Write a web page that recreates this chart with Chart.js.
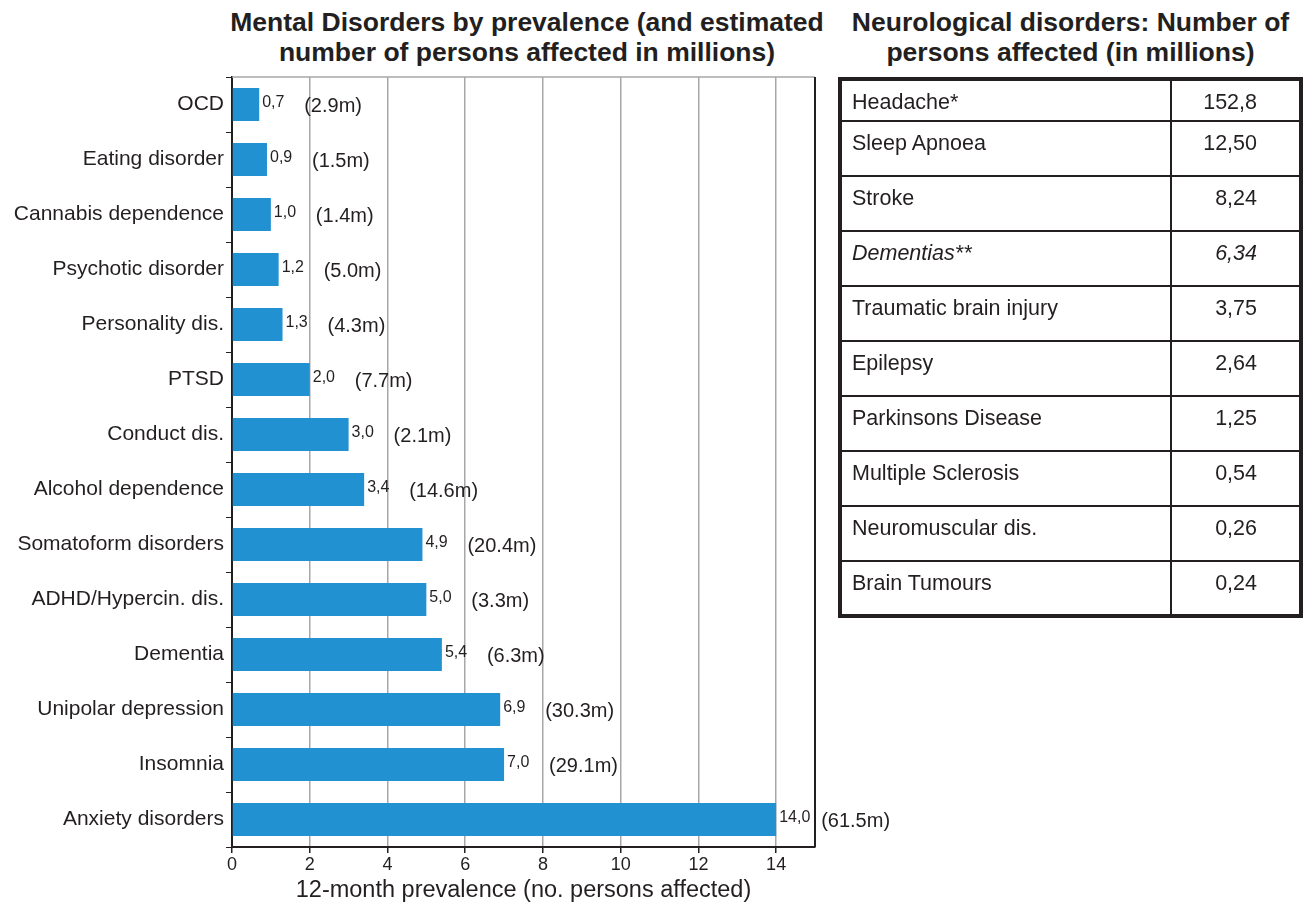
<!DOCTYPE html>
<html>
<head>
<meta charset="utf-8">
<script src="https://cdn.jsdelivr.net/npm/chart.js@4.4.0/dist/chart.umd.min.js"></script>
<style>
  body { margin: 0; background: #fff; font-family: "Liberation Sans", Arial, sans-serif; color: #231f20; }
  .title { position: absolute; font-weight: bold; font-size: 26.5px; line-height: 30px; text-align: center; white-space: nowrap; }
  #chartBox { position: absolute; left: 0; top: 0; width: 900px; height: 909px; }
  #neuro { position: absolute; left: 838px; top: 77px; width: 465px; border-collapse: collapse; border: 4px solid #231f20; font-size: 21.5px; }
  #neuro td { border: 2px solid #231f20; vertical-align: top; padding: 9px 0 0 10px; height: 42px; box-sizing: border-box; }
  #neuro td.v { text-align: right; padding: 9px 42px 0 0; }
</style>
</head>
<body>
<div class="title" style="left:227px; top:7px; width:600px;">Mental Disorders by prevalence (and estimated<br>number of persons affected in millions)</div>
<div class="title" style="left:838px; top:7px; width:465px;">Neurological disorders: Number of<br>persons affected (in millions)</div>
<div id="chartBox"><canvas id="c"></canvas></div>
<table id="neuro"></table>
<script>
// mental disorders, 12-month prevalence (%) and persons affected (millions)
const categories = ["OCD", "Eating disorder", "Cannabis dependence", "Psychotic disorder", "Personality dis.",
  "PTSD", "Conduct dis.", "Alcohol dependence", "Somatoform disorders", "ADHD/Hypercin. dis.",
  "Dementia", "Unipolar depression", "Insomnia", "Anxiety disorders"];
const prevalence = [0.7, 0.9, 1.0, 1.2, 1.3, 2.0, 3.0, 3.4, 4.9, 5.0, 5.4, 6.9, 7.0, 14.0];
const millions = [2.9, 1.5, 1.4, 5.0, 4.3, 7.7, 2.1, 14.6, 20.4, 3.3, 6.3, 30.3, 29.1, 61.5];
const xTicks = [0, 2, 4, 6, 8, 10, 12, 14];

// neurological disorders table
const neuroNames = ["Headache*", "Sleep Apnoea", "Stroke", "Dementias**", "Traumatic brain injury",
  "Epilepsy", "Parkinsons Disease", "Multiple Sclerosis", "Neuromuscular dis.", "Brain Tumours"];
const neuroValues = ["152,8", "12,50", "8,24", "6,34", "3,75", "2,64", "1,25", "0,54", "0,26", "0,24"];

const tbl = document.getElementById("neuro");
neuroNames.forEach((n, i) => {
  const tr = document.createElement("tr");
  const a = document.createElement("td");
  const b = document.createElement("td");
  a.style.width = "331px";
  b.className = "v";
  a.textContent = n;
  b.textContent = neuroValues[i];
  if (n.indexOf("Dementias") === 0) { a.style.fontStyle = "italic"; b.style.fontStyle = "italic"; }
  if (i > 0) { a.style.height = "55px"; b.style.height = "55px"; }
  tr.appendChild(a); tr.appendChild(b);
  tbl.appendChild(tr);
});

const dark = "#231f20";
const fam = "'Liberation Sans', Arial, sans-serif";

// frame lines + bar labels
const extras = {
  id: "extras",
  afterDatasetsDraw(chart) {
    const ctx = chart.ctx, a = chart.chartArea;
    ctx.save();
    ctx.strokeStyle = "#a7a7aa";
    ctx.lineWidth = 1.5;
    ctx.beginPath(); ctx.moveTo(a.left, a.top); ctx.lineTo(a.right, a.top); ctx.stroke();
    ctx.strokeStyle = dark;
    ctx.lineWidth = 2;
    ctx.beginPath(); ctx.moveTo(a.right, a.top); ctx.lineTo(a.right, a.bottom); ctx.stroke();

    const meta = chart.getDatasetMeta(0);
    ctx.textBaseline = "middle";
    ctx.fillStyle = dark;
    meta.data.forEach((bar, i) => {
      ctx.font = "16px " + fam;
      ctx.fillText(prevalence[i].toFixed(1).replace(".", ","), bar.x + 3, bar.y - 2);
      ctx.font = "20px " + fam;
      ctx.fillText("(" + millions[i].toFixed(1) + "m)", bar.x + 45, bar.y + 2);
    });
    ctx.restore();
  }
};

new Chart(document.getElementById("c"), {
  type: "bar",
  data: {
    labels: categories,
    datasets: [{
      data: prevalence,
      backgroundColor: "#2191d1",
      barPercentage: 0.6,
      categoryPercentage: 1.0,
    }],
  },
  options: {
    indexAxis: "y",
    responsive: true,
    maintainAspectRatio: false,
    animation: false,
    layout: { padding: { top: 77, right: 85, left: 0, bottom: 0 } },
    plugins: { legend: { display: false }, tooltip: { enabled: false } },
    scales: {
      x: {
        min: 0,
        max: 15,
        afterBuildTicks: (s) => { s.ticks = xTicks.concat([15]).map(v => ({ value: v })); },
        afterFit: (s) => { s.height = 62; },
        grid: {
          color: (c) => (c.tick && (c.tick.value === 0 || c.tick.value === 15)) ? "rgba(0,0,0,0)" : "#a7a7aa",
          lineWidth: 1.5,
          tickColor: (c) => (c.tick && c.tick.value === 15) ? "rgba(0,0,0,0)" : dark,
          tickLength: 6,
        },
        border: { color: dark, width: 2 },
        ticks: {
          color: dark,
          font: { size: 18, family: fam },
          padding: 1,
          callback: (v) => (v === 15 ? "" : v),
        },
        title: {
          display: true,
          text: "12-month prevalence (no. persons affected)",
          color: dark,
          font: { size: 23.5, family: fam },
          padding: { top: 0, bottom: 4 },
        },
      },
      y: {
        afterFit: (s) => { s.width = 232; },
        grid: { drawOnChartArea: false, drawTicks: true, tickLength: 6, color: dark, offset: true },
        border: { color: dark, width: 2 },
        ticks: {
          color: dark,
          font: { size: 21, family: fam },
          padding: 2,
        },
      },
    },
  },
  plugins: [extras],
});
</script>
</body>
</html>
